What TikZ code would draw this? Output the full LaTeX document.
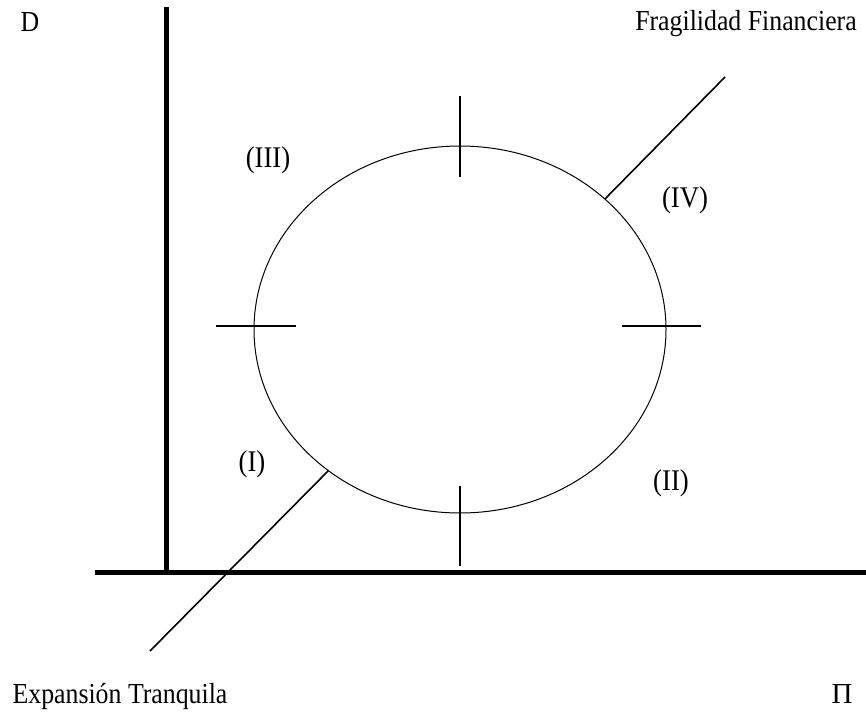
\documentclass[tikz,border=0pt]{standalone}
\usepackage{fontspec}
\setmainfont{Liberation Serif}
\usetikzlibrary{shapes.geometric}
\definecolor{ink}{RGB}{0,0,0}
\newcommand{\narrowtext}[1]{\scalebox{0.89}[1]{#1}}
\tikzset{
  axis/.style={draw=ink,line width=5pt},
  tickmark/.style={draw=ink,line width=1.6pt},
  diag/.style={draw=ink,line width=1.6pt},
  orbit/.style={ellipse,draw=ink,line width=1pt,minimum width=412pt,
    minimum height=367pt,inner sep=0pt,outer sep=0pt},
  tag/.style={font=\fontsize{29}{34}\selectfont,inner sep=0pt,text=ink},
  phase/.style={font=\fontsize{30}{35}\selectfont,inner sep=0pt,text=ink},
}
\begin{document}
\begin{tikzpicture}[x=1pt,y=-1pt]
  \useasboundingbox (0,0) rectangle (866,717);
  % axes
  \coordinate (ytop) at (166,7);
  \coordinate (ybot) at (166,574);
  \coordinate (xleft) at (95,572);
  \coordinate (xright) at (866,572);
  \draw[axis] (ytop) -- (ybot);
  \draw[axis] (xleft) -- (xright);
  % cycle
  \node[orbit] (ciclo) at (460,329.5) {};
  \draw[tickmark] (460,96) -- (460,177);
  \draw[tickmark] (460,486) -- (460,566);
  \draw[tickmark] (216,326) -- (296,326);
  \draw[tickmark] (622,326) -- (701,326);
  % diagonal
  \coordinate (fragil) at (725,77);
  \coordinate (tranq) at (150,651);
  \draw[diag] (ciclo.42.5) -- (fragil);
  \draw[diag] (ciclo.227) -- (tranq);
  % labels
  \node[tag,anchor=base] (dlab) at (30,32) {\narrowtext{D}};
  \node[tag,anchor=base] (fflab) at (746,31) {\narrowtext{Fragilidad Financiera}};
  \node[tag,anchor=base] (etlab) at (120,703) {\narrowtext{Expansión Tranquila}};
  \node[tag,anchor=base] (pilab) at (842,703) {Π};
  \node[phase] (p1) at (252,464.5) {\narrowtext{(I)}};
  \node[phase] (p2) at (671,483) {\narrowtext{(II)}};
  \node[phase] (p3) at (268,160) {\narrowtext{(III)}};
  \node[phase] (p4) at (685,200) {\narrowtext{(IV)}};
\end{tikzpicture}
\end{document}
